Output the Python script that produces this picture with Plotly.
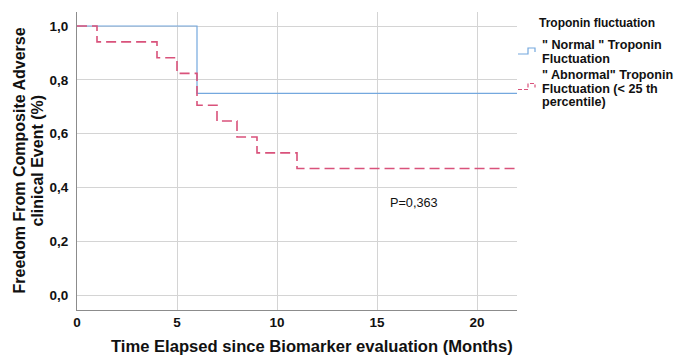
import plotly.graph_objects as go

# Data (Kaplan-Meier step curves)
normal_time = [0, 6, 22]
normal_surv = [1.0, 0.75, 0.75]
abn_time = [0, 1, 4, 5, 6, 7, 8, 9, 11, 22]
abn_surv = [1.0, 0.941, 0.882, 0.824, 0.706, 0.647, 0.588, 0.529, 0.471, 0.471]

x_ticks = [0, 5, 10, 15, 20]
y_ticks = [0.0, 0.2, 0.4, 0.6, 0.8, 1.0]

legend_title = "Troponin fluctuation"
legend_normal = ['" Normal " Troponin', 'Fluctuation']
legend_abn = ['" Abnormal" Troponin', 'Fluctuation (< 25 th', 'percentile)']

BLUE = "#74a8de"
RED = "#d9527b"
FONT = "Liberation Sans, Arial, sans-serif"

fig = go.Figure()
fig.add_trace(go.Scatter(x=normal_time, y=normal_surv, mode="lines",
                         line=dict(shape="hv", color=BLUE, width=1.2),
                         name="Normal", showlegend=False))
fig.add_trace(go.Scatter(x=abn_time, y=abn_surv, mode="lines",
                         line=dict(shape="hv", color=RED, width=1.6, dash="10px,5px"),
                         name="Abnormal", showlegend=False))

W, H = 678, 358
L, R, T, B = 77, 161, 12, 48
pw, ph = W - L - R, H - T - B

def px(xp):
    return (xp - L) / pw

def py(yp):
    return 1 - (yp - T) / ph

def ann(x, y, text, size, weight="normal", xanchor="center", angle=0, ref="paper"):
    return dict(x=x, y=y, xref=ref, yref=ref, text=text, showarrow=False,
                xanchor=xanchor, yanchor="middle", textangle=angle,
                font=dict(family=FONT, size=size, color="#111", weight=weight))

annotations = []
annotations.append(ann(16.85, 0.342, "P=0,363", 12.7, ref="x"))
annotations[-1]["yref"] = "y"
annotations.append(ann(px(312), py(346.5), "Time Elapsed since Biomarker evaluation (Months)", 16.6, "bold"))
annotations.append(ann(px(19), py(160.5), "Freedom From Composite Adverse", 16, "bold", angle=-90))
annotations.append(ann(px(37), py(160.5), "clinical Event (%)", 16, "bold", angle=-90))
annotations.append(ann(px(537), py(23), legend_title, 12, "bold", xanchor="left"))
for i, t in enumerate(legend_normal):
    annotations.append(ann(px(540), py(45 + 13.5 * i), t, 12.6, "bold", xanchor="left"))
for i, t in enumerate(legend_abn):
    annotations.append(ann(px(540), py(75 + 13.5 * i), t, 12.6, "bold", xanchor="left"))

def step_icon(y0, color, dash=None):
    pts = [(518, y0), (528, y0), (528, y0 - 6), (535, y0 - 6), (535, y0 - 2)]
    d = "M " + " L ".join(f"{px(a):.5f},{py(b):.5f}" for a, b in pts)
    line = dict(color=color, width=1.2)
    if dash:
        line["dash"] = dash
    return dict(type="path", path=d, xref="paper", yref="paper", line=line)

shapes = [step_icon(54, BLUE), step_icon(89.5, RED, "4px,2px")]

fig.update_layout(
    width=W, height=H,
    margin=dict(l=L, r=R, t=T, b=B),
    paper_bgcolor="white", plot_bgcolor="white",
    separators=",.",
    showlegend=False,
    font=dict(family=FONT, color="#111"),
    annotations=annotations,
    shapes=shapes,
    xaxis=dict(range=[0, 22], tickvals=x_ticks, showgrid=True, gridcolor="#d4d4d4", gridwidth=1,
               zeroline=False, showline=True, linecolor="#8c8c8c", linewidth=1.2,
               ticks="", ticklabelstandoff=0,
               tickfont=dict(family=FONT, size=13.5, color="#111", weight="bold")),
    yaxis=dict(range=[-0.0546, 1.052], tickvals=y_ticks, tickformat=".1f",
               showgrid=True, gridcolor="#d4d4d4", gridwidth=1,
               zeroline=False, showline=True, linecolor="#8c8c8c", linewidth=1.2,
               ticks="", ticklabelstandoff=5,
               tickfont=dict(family=FONT, size=13.5, color="#111", weight="bold")),
)

fig.write_html("out.html")
